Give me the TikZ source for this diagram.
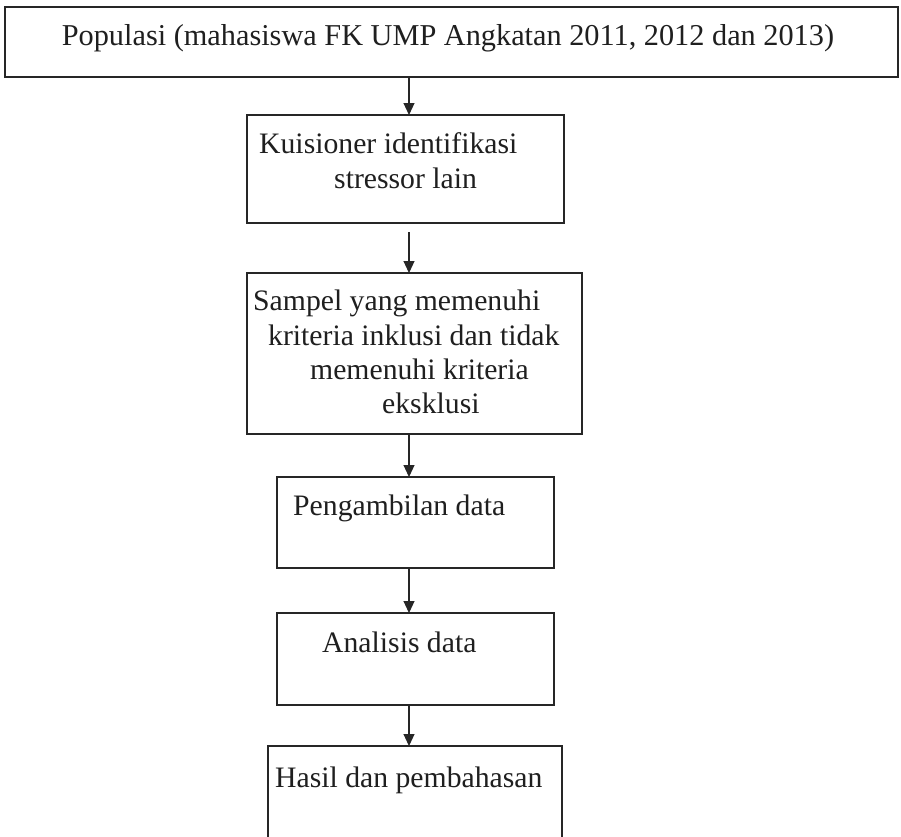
\documentclass[tikz,border=0pt]{standalone}
\usepackage{fontspec}
\setmainfont{Liberation Serif}
\usetikzlibrary{arrows.meta}
\begin{document}
\begin{tikzpicture}[x=1pt,y=-1pt,
  box/.style={draw=black!85,line width=1.2pt,inner sep=0pt,outer sep=0pt},
  txt/.style={anchor=base west,inner sep=0pt,text=black!88,font=\fontsize{29.7}{34}\selectfont},
  flow/.style={draw=black!85,line width=1.1pt,-{Triangle[width=11pt,length=12pt]}}]
\clip (0,0) rectangle (901,836);
\fill[white] (0,0) rectangle (901,836);
% boxes
\node[box,minimum width=893pt,minimum height=70pt] (b1) at (451.5,42) {};
\node[box,minimum width=317pt,minimum height=108pt] (b2) at (405.5,169) {};
\node[box,minimum width=335pt,minimum height=161pt] (b3) at (414.5,353.5) {};
\node[box,minimum width=277pt,minimum height=91pt] (b4) at (415.5,522.5) {};
\node[box,minimum width=277pt,minimum height=92pt] (b5) at (415.5,659) {};
\node[box,minimum width=294pt,minimum height=114pt] (b6) at (415,803) {};
% texts
\node[txt,anchor=base,font=\fontsize{30.3}{34}\selectfont] (t1) at (448,45) {Populasi (mahasiswa FK UMP Angkatan 2011, 2012 dan 2013)};
\node[txt] (t2a) at (259,153) {Kuisioner identifikasi};
\node[txt] (t2b) at (334,188) {stressor lain};
\node[txt] (t3a) at (253,310) {Sampel yang memenuhi};
\node[txt] (t3b) at (268,345) {kriteria inklusi dan tidak};
\node[txt] (t3c) at (310,379) {memenuhi kriteria};
\node[txt] (t3d) at (382,413) {eksklusi};
\node[txt] (t4) at (293,515) {Pengambilan data};
\node[txt] (t5) at (322,652) {Analisis data};
\node[txt] (t6) at (275,787) {Hasil dan pembahasan};
% connectors
\coordinate (ax) at (409,0);
\coordinate (s2) at (409,232);
\draw[flow] (b1.south -| ax) -- (b2.north -| ax);
\draw[flow] (s2) -- (b3.north -| s2);
\draw[flow] (b3.south -| ax) -- (b4.north -| ax);
\draw[flow] (b4.south -| ax) -- (b5.north -| ax);
\draw[flow] (b5.south -| ax) -- (b6.north -| ax);
\end{tikzpicture}
\end{document}
